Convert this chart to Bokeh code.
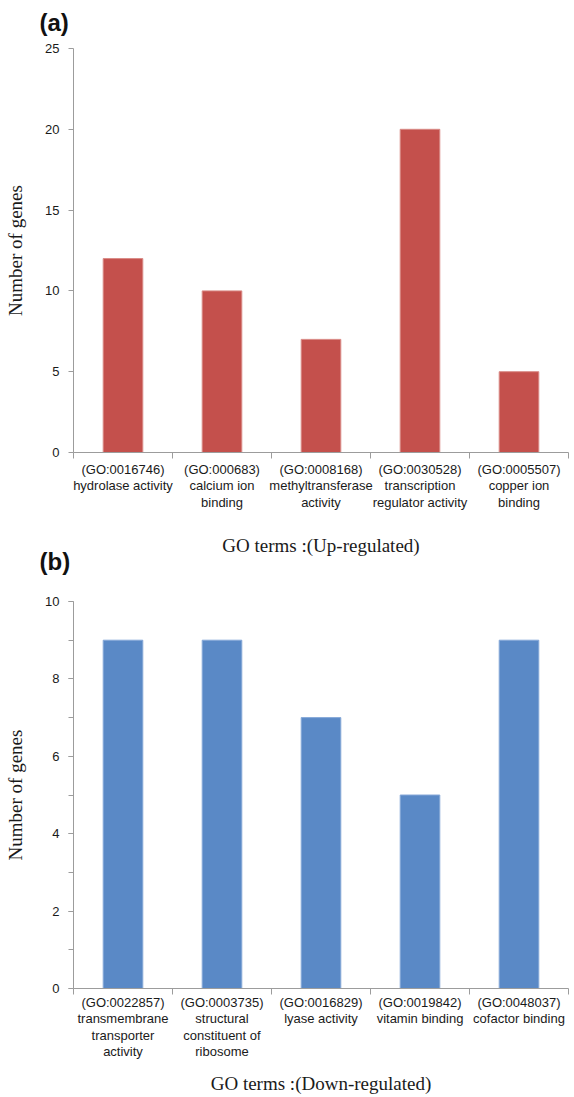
from bokeh.plotting import figure
from bokeh.models import FixedTicker, Range1d, Title
from bokeh.layouts import column
from bokeh.embed import file_html
from bokeh.resources import INLINE

# ---- data ----
up_labels = [
    "(GO:0016746)\nhydrolase activity",
    "(GO:000683)\ncalcium ion\nbinding",
    "(GO:0008168)\nmethyltransferase\nactivity",
    "(GO:0030528)\ntranscription\nregulator activity",
    "(GO:0005507)\ncopper ion\nbinding",
]
up_values = [12, 10, 7, 20, 5]
up_yticks = [0, 5, 10, 15, 20, 25]

down_labels = [
    "(GO:0022857)\ntransmembrane\ntransporter\nactivity",
    "(GO:0003735)\nstructural\nconstituent of\nribosome",
    "(GO:0016829)\nlyase activity",
    "(GO:0019842)\nvitamin binding",
    "(GO:0048037)\ncofactor binding",
]
down_values = [9, 9, 7, 5, 9]
down_yticks = [0, 2, 4, 6, 8, 10]
down_yminor = [0, 1, 2, 3, 4, 5, 6, 7, 8, 9, 10]

AXIS_COL = "#9c9c9c"
SANS = "Liberation Sans"
SERIF = "Liberation Serif"


def make_panel(labels, values, yticks, yminor, ymax, color, edge, height,
               b_top, b_bottom, xlab_standoff, xtitle, xtitle_standoff,
               tag, tag_standoff, fill):
    n = len(labels)
    centers = [i + 0.5 for i in range(n)]
    bounds = [float(i) for i in range(n + 1)]
    p = figure(width=574, height=height, output_backend="svg",
               toolbar_location=None,
               x_range=Range1d(0, n), y_range=Range1d(0, ymax),
               min_border_left=73, min_border_right=6,
               min_border_top=b_top, min_border_bottom=b_bottom)
    p.outline_line_color = None
    p.grid.visible = False
    p.background_fill_color = fill
    p.border_fill_color = fill

    p.title = Title(text=tag, align="left", offset=-34,
                    vertical_align="bottom",
                    text_font=SANS, text_font_style="bold",
                    text_font_size="24px", text_color="#111111",
                    standoff=tag_standoff)

    p.vbar(x=centers, top=values, width=0.4, fill_color=color,
           line_color=edge, line_width=1)

    # y axis
    ya = p.yaxis[0]
    ya.ticker = FixedTicker(ticks=yticks, minor_ticks=yminor)
    ya.axis_line_color = AXIS_COL
    ya.major_tick_line_color = AXIS_COL
    ya.minor_tick_line_color = AXIS_COL
    ya.major_tick_in = 0
    ya.major_tick_out = 5
    ya.minor_tick_in = 0
    ya.minor_tick_out = 5
    ya.major_label_standoff = 9
    ya.major_label_text_font = SANS
    ya.major_label_text_font_size = "13px"
    ya.major_label_text_color = "#1a1a1a"
    ya.axis_label = "Number of genes"
    ya.axis_label_text_font = SERIF
    ya.axis_label_text_font_style = "normal"
    ya.axis_label_text_font_size = "19px"
    ya.axis_label_text_color = "#1a1a1a"
    ya.axis_label_standoff = 16

    # x axis: labels at centres, tick marks at category boundaries
    xa = p.xaxis[0]
    xa.ticker = FixedTicker(ticks=centers, minor_ticks=bounds)
    xa.major_label_overrides = {c: t for c, t in zip(centers, labels)}
    xa.axis_line_color = AXIS_COL
    xa.major_tick_line_color = None
    xa.major_tick_in = 0
    xa.major_tick_out = 0
    xa.minor_tick_line_color = AXIS_COL
    xa.minor_tick_in = 0
    xa.minor_tick_out = 6
    xa.major_label_standoff = xlab_standoff
    xa.major_label_text_font = SANS
    xa.major_label_text_font_size = "13px"
    xa.major_label_text_line_height = 1.1
    xa.major_label_text_color = "#1a1a1a"
    xa.axis_label = xtitle
    xa.axis_label_text_font = SERIF
    xa.axis_label_text_font_style = "normal"
    xa.axis_label_text_font_size = "19px"
    xa.axis_label_text_color = "#1a1a1a"
    xa.axis_label_standoff = xtitle_standoff
    return p


pa = make_panel(up_labels, up_values, up_yticks, [], 25,
                "#C4504C", "#d98a86", 566, 56, 102, 3,
                "GO terms :(Up-regulated)", 22, "(a)", 25, "white")
pb = make_panel(down_labels, down_values, down_yticks, down_yminor, 10,
                "#5A89C6", "#86a8d8", 581, 85, 109, 0,
                "GO terms :(Down-regulated)", 11, "(b)", 54, None)
pa.margin = (-8, 0, 0, 0)
pb.margin = (-42, 0, 0, 0)

layout = column(pa, pb)
open("out.html", "w").write(file_html(layout, INLINE))
